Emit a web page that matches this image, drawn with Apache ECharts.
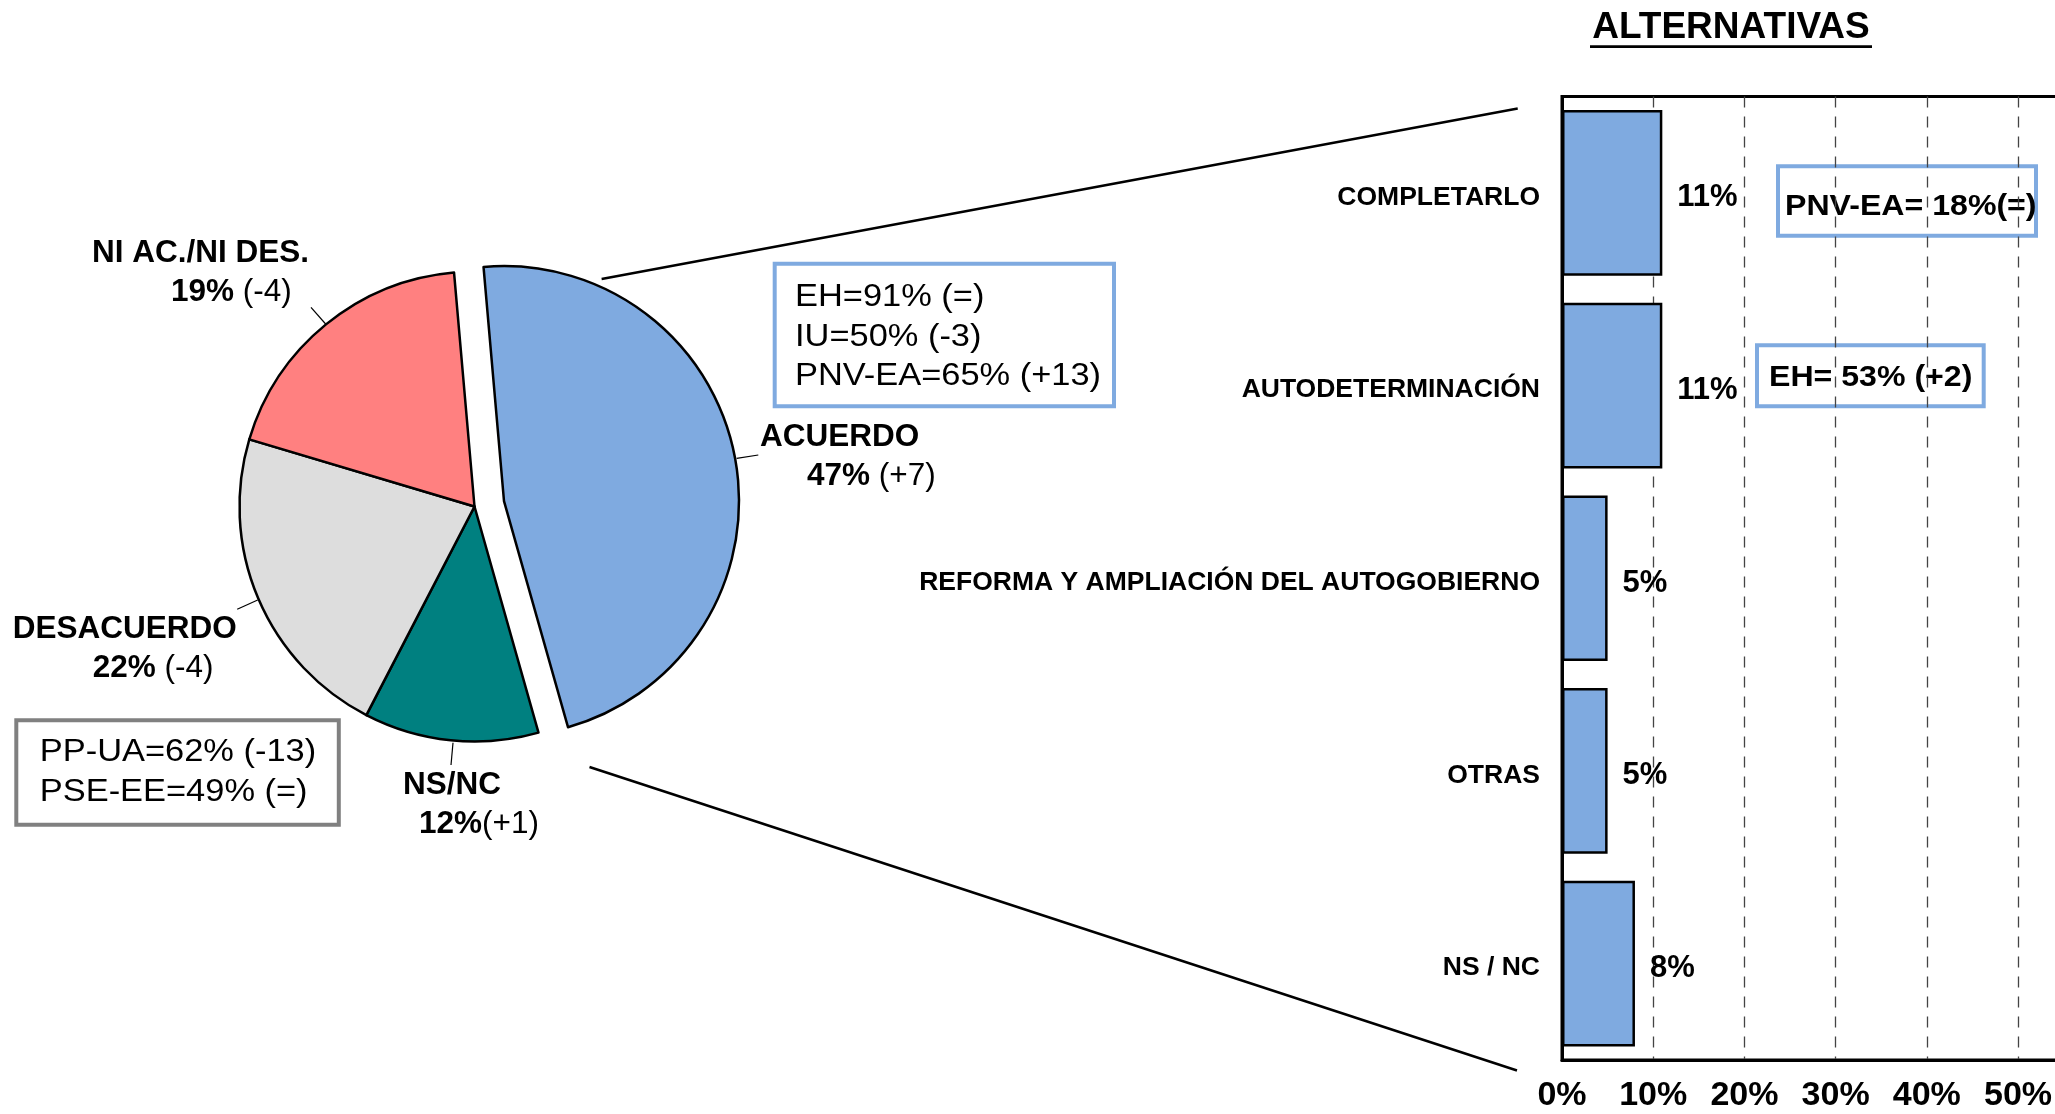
<!DOCTYPE html>
<html>
<head>
<meta charset="utf-8">
<script src="https://cdn.jsdelivr.net/npm/echarts@6/dist/echarts.min.js"></script>
<style>
html,body{margin:0;padding:0;background:#fff;overflow:hidden;width:2055px;height:1114px;}
#chart{width:2120px;height:1114px;}
</style>
</head>
<body>
<div id="chart"></div>
<script>
// ---- data ----
const pieCategories = ['ACUERDO', 'NS/NC', 'DESACUERDO', 'NI AC./NI DES.'];
const pieValues = [47, 12, 22, 19];
const pieChanges = [' (+7)', '(+1)', ' (-4)', ' (-4)'];
const pieColors = ['#7FAAE0', '#008080', '#DDDDDD', '#FF8080'];

const barTitle = 'ALTERNATIVAS';
const barCategories = ['COMPLETARLO', 'AUTODETERMINACIÓN', 'REFORMA Y AMPLIACIÓN DEL AUTOGOBIERNO', 'OTRAS', 'NS / NC'];
const barValues = [11, 11, 5, 5, 8];

const acuerdoNotes = ['EH=91% (=)', 'IU=50% (-3)', 'PNV-EA=65% (+13)'];
const desacuerdoNotes = ['PP-UA=62% (-13)', 'PSE-EE=49% (=)'];
const completarloNote = 'PNV-EA= 18%(=)';
const autodetNote = 'EH= 53% (+2)';

// ---- layout / style (positions only) ----
const FONT = "'Liberation Sans', Arial, sans-serif";
const pieCenter = [474.5, 506.5];
const pieRadius = 235;
const pieStart = 95;
const explodeIndex = 0;
const explodeDist = 30;
const labelPos = [[760, 417.5], [403, 765.5], [12.8, 609.5], [92, 234]];
const labelIndent = [47, 16, 80, 79];
const leaderLines = [[736.7, 458.3, 758.3, 455], [453, 742.7, 451, 765], [237.2, 609.3, 257.7, 600], [311, 307.3, 326.5, 325]];
const boxBlue = '#7FAAE0';

// offset of exploded slice along its mid-angle
const total = pieValues.reduce((a, b) => a + b, 0);
let before = 0;
for (let i = 0; i < explodeIndex; i++) before += pieValues[i];
const midDeg = pieStart - (before + pieValues[explodeIndex] / 2) / total * 360;
const explodedCenter = [
  pieCenter[0] + explodeDist * Math.cos(midDeg * Math.PI / 180),
  pieCenter[1] - explodeDist * Math.sin(midDeg * Math.PI / 180)
];

const chart = echarts.init(document.getElementById('chart'), null, {renderer: 'canvas'});

const rich = {
  n: {fontFamily: FONT, fontWeight: 'bold', fontSize: 31.5, color: '#000', lineHeight: 39},
  p: {fontFamily: FONT, fontWeight: 'bold', fontSize: 31.5, color: '#000', lineHeight: 39},
  c: {fontFamily: FONT, fontWeight: 'normal', fontSize: 31.5, color: '#000', lineHeight: 39}
};
labelIndent.forEach((w, i) => { rich['i' + i] = {width: w, fontSize: 31.5, lineHeight: 39}; });

function pieSeries(center, visible) {
  return {
    type: 'pie',
    center: center,
    radius: [0, pieRadius],
    startAngle: pieStart,
    clockwise: true,
    avoidLabelOverlap: false,
    silent: true,
    data: pieCategories.map((c, i) => {
      const show = visible(i);
      return {
        name: c, value: pieValues[i],
        itemStyle: show ? {color: pieColors[i], borderColor: '#000', borderWidth: 2.5}
                        : {color: 'transparent', borderWidth: 0},
        label: {show: show}
      };
    }),
    label: {
      show: true, position: 'outside',
      formatter: (p) => '{n|' + p.name + '}\n{i' + p.dataIndex + '| }{p|' + p.value + '%}{c|' + pieChanges[p.dataIndex] + '}',
      rich: rich
    },
    labelLine: {show: false},
    labelLayout: (params) => {
      const pos = labelPos[params.dataIndex];
      return {x: pos[0], y: pos[1], align: 'left', verticalAlign: 'top'};
    }
  };
}

const graphics = [
  // connector lines
  {type: 'line', shape: {x1: 601.6, y1: 279, x2: 1517.7, y2: 108.5}, style: {stroke: '#000', lineWidth: 2.5}},
  {type: 'line', shape: {x1: 589.5, y1: 767, x2: 1517, y2: 1070.5}, style: {stroke: '#000', lineWidth: 2.5}},
  // title
  {type: 'text', x: 1731, y: 28, style: {text: barTitle, fontFamily: FONT, fontWeight: 'bold', fontSize: 37, fill: '#000', textAlign: 'center', textVerticalAlign: 'middle'}},
  {type: 'line', shape: {x1: 1590, y1: 46.7, x2: 1872, y2: 46.7}, style: {stroke: '#000', lineWidth: 2.7}},
  // acuerdo note box
  {type: 'rect', shape: {x: 774.7, y: 263.7, width: 339.3, height: 142.6}, style: {fill: 'transparent', stroke: boxBlue, lineWidth: 4}},
  {type: 'text', x: 795, y: 278.3, scaleX: 1.11, style: {text: acuerdoNotes.join('\n'), fontFamily: FONT, fontSize: 31, lineHeight: 39.3, fill: '#000', textAlign: 'left', textVerticalAlign: 'top'}},
  // desacuerdo note box
  {type: 'rect', shape: {x: 16.3, y: 720.3, width: 322.5, height: 104.4}, style: {fill: 'transparent', stroke: '#808080', lineWidth: 4}},
  {type: 'text', x: 39.8, y: 732.3, scaleX: 1.11, style: {text: desacuerdoNotes.join('\n'), fontFamily: FONT, fontSize: 31, lineHeight: 40, fill: '#000', textAlign: 'left', textVerticalAlign: 'top'}},
  // completarlo note
  {type: 'rect', shape: {x: 1778, y: 166.3, width: 258, height: 69.4}, style: {fill: 'transparent', stroke: boxBlue, lineWidth: 4}},
  {type: 'text', x: 1785, y: 207, scaleX: 1.07, style: {text: completarloNote, fontFamily: FONT, fontWeight: 'bold', fontSize: 30, fill: '#000', textAlign: 'left', textVerticalAlign: 'middle'}},
  // autodeterminacion note
  {type: 'rect', shape: {x: 1757, y: 345.3, width: 226.7, height: 61}, style: {fill: 'transparent', stroke: boxBlue, lineWidth: 4}},
  {type: 'text', x: 1769, y: 377.5, scaleX: 1.07, style: {text: autodetNote, fontFamily: FONT, fontWeight: 'bold', fontSize: 30, fill: '#000', textAlign: 'left', textVerticalAlign: 'middle'}}
];
leaderLines.forEach((l) => {
  graphics.push({type: 'line', shape: {x1: l[0], y1: l[1], x2: l[2], y2: l[3]}, style: {stroke: '#000', lineWidth: 1.2}});
});

const option = {
  animation: false,
  backgroundColor: '#fff',
  grid: {
    left: 1562, top: 96.5, bottom: 54, right: 10.8,
    outerBoundsMode: 'none', containLabel: false,
    show: true, borderColor: '#000', borderWidth: 3, backgroundColor: 'transparent'
  },
  xAxis: {
    type: 'value', min: 0, max: 60, interval: 10,
    axisLine: {show: true, lineStyle: {color: '#000', width: 3}},
    axisTick: {show: false},
    axisLabel: {formatter: '{value}%', fontFamily: FONT, fontWeight: 'bold', fontSize: 34, color: '#000', margin: 19},
    splitLine: {show: true, lineStyle: {color: '#444', width: 1.3, type: [11, 9]}}
  },
  yAxis: {
    type: 'category', inverse: true, data: barCategories,
    axisLine: {show: true, lineStyle: {color: '#000', width: 3}},
    axisTick: {show: false},
    axisLabel: {fontFamily: FONT, fontWeight: 'bold', fontSize: 26.5, color: '#000', margin: 22,
      verticalAlign: 'top', lineHeight: 9}
  },
  series: [
    {
      type: 'bar',
      data: barValues,
      barCategoryGap: '14%',
      silent: true,
      itemStyle: {color: boxBlue, borderColor: '#000', borderWidth: 2.5},
      label: {show: true, position: 'right', distance: 15, offset: [0, 5], formatter: '{c}%',
        fontFamily: FONT, fontWeight: 'bold', fontSize: 31, color: '#000'}
    },
    pieSeries(pieCenter, (i) => i !== explodeIndex),
    pieSeries(explodedCenter, (i) => i === explodeIndex)
  ],
  graphic: graphics
};
chart.setOption(option);
</script>
</body>
</html>
